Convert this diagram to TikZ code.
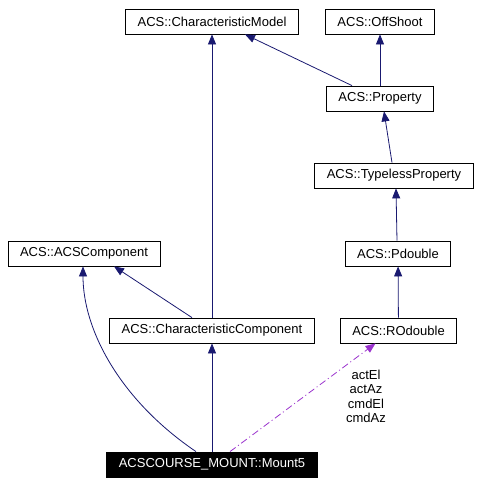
\documentclass[tikz,border=0pt]{standalone}
\usepackage{fontspec}
\setmainfont{Liberation Sans}
\usetikzlibrary{arrows.meta}
\definecolor{edgeblue}{HTML}{191970}
\definecolor{edgepurple}{HTML}{9A32CD}

\begin{document}
\begin{tikzpicture}[x=1pt, y=-1pt,
	classnode/.style={rectangle, draw=black, line width=0.8pt, minimum height=25pt, inner xsep=12pt, font=\fontsize{13}{15}\selectfont},
	thisnode/.style={classnode, fill=black, text=white},
	inherit/.style={color=edgeblue, line width=0.8pt, -{Triangle[length=10pt,width=8pt]}},
	usage/.style={color=edgepurple, line width=0.8pt, dash pattern=on 7pt off 3pt on 1pt off 3pt, -{Triangle[length=10pt,width=8pt]}}]
	\useasboundingbox (0,0) rectangle (480,483);
	\node[classnode] (charmodel) at (212,21.5) {ACS::CharacteristicModel};
	\node[classnode] (offshoot) at (380,21.5) {ACS::OffShoot};
	\node[classnode] (property) at (380,98.5) {ACS::Property};
	\node[classnode] (typeless) at (394,175.5) {ACS::TypelessProperty};
	\node[classnode] (pdouble) at (398,253.5) {ACS::Pdouble};
	\node[classnode] (rodouble) at (398.5,330.5) {ACS::ROdouble};
	\node[classnode] (acscomp) at (84,253.5) {ACS::ACSComponent};
	\node[classnode] (charcomp) at (212,330.5) {ACS::CharacteristicComponent};
	\node[thisnode] (mount) at (212,464.5) {ACSCOURSE\_MOUNT::Mount5};
	\node[align=center, font=\fontsize{13}{14.5}\selectfont] (members) at (366,396.5) {actEl\\actAz\\cmdEl\\cmdAz};
	\path[inherit] (property) edge (offshoot);
	\path[inherit] ([xshift=-28pt]property.north) edge ([xshift=33pt]charmodel.south);
	\path[inherit] ([xshift=-2pt]typeless.north) edge ([xshift=4pt]property.south);
	\path[inherit] ([xshift=-1pt]pdouble.north) edge ([xshift=2pt]typeless.south);
	\path[inherit] (rodouble) edge (pdouble);
	\path[inherit] (charcomp) edge (charmodel);
	\path[inherit] ([xshift=-20pt]charcomp.north) edge ([xshift=30pt]acscomp.south);
	\path[inherit] (mount) edge (charcomp);
	\draw[inherit] ([xshift=-16pt]mount.north) .. controls (120,400) and (83,330) .. ([xshift=-1pt]acscomp.south);
	\path[usage] ([xshift=18pt]mount.north) edge ([xshift=-23pt]rodouble.south);
\end{tikzpicture}
\end{document}
